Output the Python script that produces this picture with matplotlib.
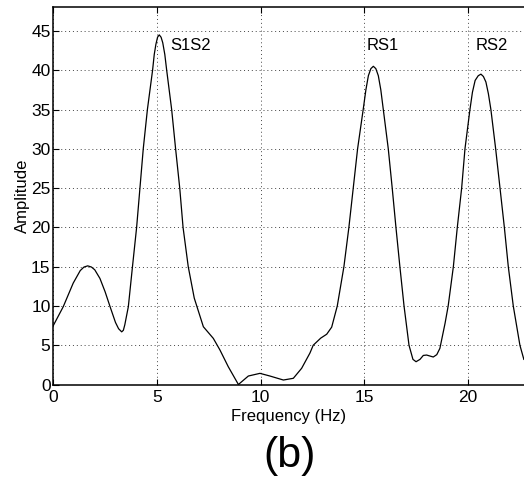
import matplotlib
matplotlib.use("Agg")
import matplotlib.pyplot as plt

plt.rcParams['font.family'] = ['Liberation Sans', 'DejaVu Sans']

# spectrum
freq = [0.0, 0.48, 0.96, 1.3, 1.48, 1.66, 1.84, 2.0, 2.25, 2.5, 2.74, 3.0,
        3.15, 3.3, 3.38, 3.45, 3.62, 3.82, 4.02, 4.18, 4.34, 4.54, 4.79, 4.87,
        4.95, 5.03, 5.11, 5.2, 5.28, 5.38, 5.47, 5.71, 5.9, 6.1, 6.26, 6.51,
        6.8, 6.92, 7.24, 7.72, 8.04, 8.44, 8.93, 9.41, 9.97, 10.45, 11.1,
        11.58, 11.98, 12.38, 12.54, 12.9, 13.19, 13.43, 13.7, 14.02, 14.26,
        14.47, 14.68, 14.95, 15.08, 15.2, 15.32, 15.44, 15.56, 15.68, 15.8,
        15.92, 16.16, 16.35, 16.53, 16.72, 16.92, 17.16, 17.35, 17.5, 17.69,
        17.85, 18.01, 18.2, 18.33, 18.5, 18.65, 18.9, 19.05, 19.3, 19.49, 19.7,
        19.86, 20.1, 20.22, 20.35, 20.5, 20.63, 20.75, 20.87, 20.99, 21.11,
        21.34, 21.55, 21.76, 21.95, 22.19, 22.51, 22.7]
amp = [7.5, 9.9, 12.9, 14.5, 14.95, 15.1, 14.95, 14.6, 13.5, 11.8, 9.9, 7.9,
       7.1, 6.7, 6.9, 7.6, 9.9, 15.0, 20.0, 25.0, 30.0, 35.0, 40.0, 42.0,
       43.3, 44.2, 44.5, 44.2, 43.5, 42.0, 40.0, 35.0, 30.0, 25.0, 20.0, 15.0,
       11.0, 10.0, 7.35, 5.87, 4.39, 2.27, 0.0, 1.08, 1.42, 1.08, 0.57,
       0.79, 2.06, 4.0, 5.0, 5.9, 6.4, 7.3, 10.0, 15.0, 20.0,
       25.0, 30.0, 35.0, 37.5, 39.3, 40.2, 40.5, 40.2, 39.3, 37.5,
       35.0, 30.0, 25.0, 20.0, 15.0, 10.0, 5.0, 3.2, 2.9, 3.2,
       3.7, 3.75, 3.6, 3.5, 3.8, 4.6, 7.8, 10.0, 15.0, 20.0, 25.0,
       30.0, 35.0, 37.2, 38.7, 39.3, 39.5, 39.2, 38.5, 37.0, 35.0,
       30.0, 25.0, 20.0, 15.0, 10.0, 5.0, 3.2]

peak_names = ["S1S2", "RS1", "RS2"]
peak_label_x = [5.63, 15.13, 20.35]
peak_label_y = [43.2, 43.1, 43.1]

fig = plt.figure(figsize=(5.24, 4.78), dpi=100)
ax = fig.add_axes([0.1017, 0.1956, 0.898, 0.789])

ax.plot(freq, amp, color='black', linewidth=0.9, solid_joinstyle='round')

for name, px, py in zip(peak_names, peak_label_x, peak_label_y):
    ax.text(px, py, name, fontsize=12, va='center', ha='left')

ax.set_xlim(0, 22.7)
ax.set_ylim(0, 48)
ax.set_xticks([0, 5, 10, 15, 20])
ax.set_yticks(range(0, 50, 5))
ax.grid(True, linestyle=(0, (1, 3)), color='#444444', linewidth=0.7)
ax.tick_params(direction='in', top=True, right=False, labelsize=12.5,
               length=4, width=0.8)
ax.tick_params(axis='x', pad=4)
ax.tick_params(axis='y', pad=2)
ax.spines['right'].set_visible(False)
for s in ['left', 'bottom', 'top']:
    ax.spines[s].set_linewidth(1.1)

ax.set_xlabel("Frequency (Hz)", fontsize=12, labelpad=3)
ax.set_ylabel("Amplitude", fontsize=12, labelpad=1)

fig.text(0.553, 0.045, "(b)", fontsize=31, ha='center', va='center')

fig.savefig("out.png", dpi=100)
